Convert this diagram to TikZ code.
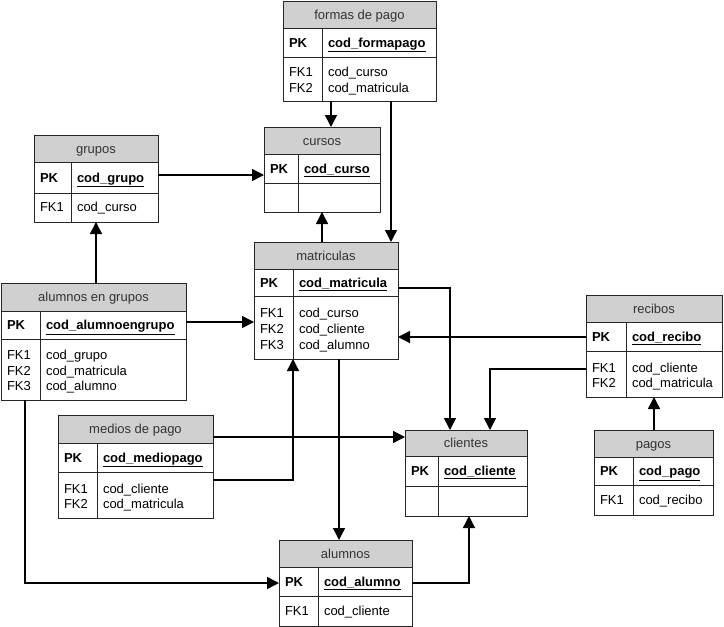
\documentclass[tikz,border=0pt]{standalone}
\usepackage{fontspec}
\setmainfont{Liberation Sans}
\usetikzlibrary{arrows.meta}
\tikzset{
  hdrfill/.style={fill={rgb,255:red,208;green,208;blue,208}},
  tblline/.style={draw=black!85, line width=1pt},
  tblframe/.style={draw=black!85, line width=1pt, inner sep=0pt, outer sep=0pt, rectangle},
  txt/.style={inner sep=0pt, outer sep=0pt, text height=9.4pt, text depth=0pt, font=\fontsize{13}{16}\selectfont},
  titletext/.style={txt, anchor=center, text=black!80},
  celltext/.style={txt, anchor=west},
  conn/.style={draw=black, line width=1.4pt, -{Triangle[length=12pt,width=12pt]}},
}
% #1 name, #2 left, #3 top, #4 right, #5 divider x, #6 header bottom, #7 pk bottom, #8 bottom, #9 title
\newcommand{\ertable}[9]{%
  \fill[hdrfill] (#2,#3) rectangle (#4,#6);
  \draw[tblline] (#2,#6) -- (#4,#6) (#2,#7) -- (#4,#7) (#5,#6) -- (#5,#8);
  \node[tblframe, minimum width={#4-#2}, minimum height={#8-#3}] (#1) at ({(#2+#4)/2},{(#3+#8)/2}) {};
  \node[titletext] (#1-title) at ({(#2+#4)/2},{(#3+#6)/2}) {#9};
}
% #1 name, #2 left, #3 divider x, #4 y centre, #5 field
\newcommand{\erpk}[5]{%
  \node[celltext] (#1-pk) at ({#2+6},#4) {\textbf{PK}};
  \node[celltext] (#1-pkf) at ({#3+6},#4) {\underline{\textbf{#5}}};
}
% #1 node-name prefix, #2 left, #3 divider x, #4 y centre, #5 label, #6 field
\newcommand{\erfk}[6]{%
  \node[celltext] (#1-l) at ({#2+6},#4) {#5};
  \node[celltext] (#1-f) at ({#3+6},#4) {#6};
}
\begin{document}
\begin{tikzpicture}[x=1pt,y=-1pt]
\useasboundingbox (0,0) rectangle (724,627);

% formas de pago
\ertable{fp}{283}{1}{436}{322}{28}{57}{101}{formas de pago}
\erpk{fp}{283}{322}{42.5}{cod\_formapago}
\erfk{fp-fk1}{283}{322}{72}{FK1}{cod\_curso}
\erfk{fp-fk2}{283}{322}{88}{FK2}{cod\_matricula}

% cursos
\ertable{cur}{264}{127}{380}{298}{154}{183}{212}{cursos}
\erpk{cur}{264}{298}{168.5}{cod\_curso}

% matriculas
\ertable{mat}{254}{242}{398}{293}{269}{296}{359}{matriculas}
\erpk{mat}{254}{293}{282.5}{cod\_matricula}
\erfk{mat-fk1}{254}{293}{313}{FK1}{cod\_curso}
\erfk{mat-fk2}{254}{293}{329}{FK2}{cod\_cliente}
\erfk{mat-fk3}{254}{293}{345}{FK3}{cod\_alumno}

% grupos
\ertable{gru}{34}{135}{158}{71}{162}{193}{222}{grupos}
\erpk{gru}{34}{71}{177.5}{cod\_grupo}
\erfk{gru-fk1}{34}{71}{207}{FK1}{cod\_curso}

% alumnos en grupos
\ertable{aeg}{1}{283}{186}{40}{311}{339}{400}{alumnos en grupos}
\erpk{aeg}{1}{40}{325}{cod\_alumnoengrupo}
\erfk{aeg-fk1}{1}{40}{355}{FK1}{cod\_grupo}
\erfk{aeg-fk2}{1}{40}{370.5}{FK2}{cod\_matricula}
\erfk{aeg-fk3}{1}{40}{386}{FK3}{cod\_alumno}

% recibos
\ertable{rec}{586}{295}{722}{626}{322}{351}{397}{recibos}
\erpk{rec}{586}{626}{336.5}{cod\_recibo}
\erfk{rec-fk1}{586}{626}{367.5}{FK1}{cod\_cliente}
\erfk{rec-fk2}{586}{626}{383}{FK2}{cod\_matricula}

% pagos
\ertable{pag}{594}{430}{713}{633}{457}{485}{515}{pagos}
\erpk{pag}{594}{633}{471}{cod\_pago}
\erfk{pag-fk1}{594}{633}{500}{FK1}{cod\_recibo}

% medios de pago
\ertable{med}{58}{415}{213}{97}{443}{472}{518}{medios de pago}
\erpk{med}{58}{97}{457.5}{cod\_mediopago}
\erfk{med-fk1}{58}{97}{488.5}{FK1}{cod\_cliente}
\erfk{med-fk2}{58}{97}{503.5}{FK2}{cod\_matricula}

% clientes
\ertable{cli}{405}{430}{527}{438}{456}{486}{516}{clientes}
\erpk{cli}{405}{438}{471}{cod\_cliente}

% alumnos
\ertable{alu}{279}{540}{412}{318}{567}{596}{626}{alumnos}
\erpk{alu}{279}{318}{581.5}{cod\_alumno}
\erfk{alu-fk1}{279}{318}{611}{FK1}{cod\_cliente}

% routing coordinates
\coordinate (p1) at (331,0);
\coordinate (p2) at (391,0);
\coordinate (p3) at (0,175);
\coordinate (p4) at (322,0);
\coordinate (p5) at (96,0);
\coordinate (p6) at (0,322);
\coordinate (p7) at (450,288);
\coordinate (p8) at (0,337);
\coordinate (p9) at (490,369);
\coordinate (p10) at (654,0);
\coordinate (p11) at (0,437);
\coordinate (p12) at (293,480);
\coordinate (p13) at (339,0);
\coordinate (p14) at (469,583);
\coordinate (p15) at (25,583);

% connectors
\draw[conn] (fp.south -| p1) -- (cur.north -| p1);
\draw[conn] (fp.south -| p2) -- (mat.north -| p2);
\draw[conn] (gru.east |- p3) -- (cur.west |- p3);
\draw[conn] (mat.north -| p4) -- (cur.south -| p4);
\draw[conn] (aeg.north -| p5) -- (gru.south -| p5);
\draw[conn] (aeg.east |- p6) -- (mat.west |- p6);
\draw[conn] (mat.east |- p7) -| (cli.north -| p7);
\draw[conn] (rec.west |- p8) -- (mat.east |- p8);
\draw[conn] (rec.west |- p9) -| (cli.north -| p9);
\draw[conn] (pag.north -| p10) -- (rec.south -| p10);
\draw[conn] (med.east |- p11) -- (cli.west |- p11);
\draw[conn] (med.east |- p12) -| (mat.south -| p12);
\draw[conn] (mat.south -| p13) -- (alu.north -| p13);
\draw[conn] (alu.east |- p14) -| (cli.south -| p14);
\draw[conn] (aeg.south -| p15) |- (alu.west |- p15);
\end{tikzpicture}
\end{document}
